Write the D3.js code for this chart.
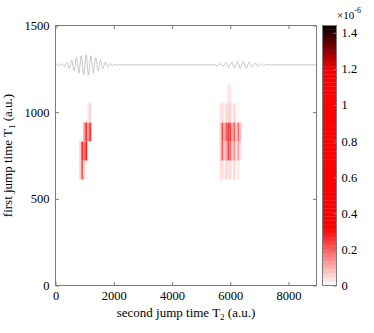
<!DOCTYPE html>
<html><head><meta charset="utf-8">
<script src="https://cdn.jsdelivr.net/npm/d3@7"></script>
<style>
body{margin:0;background:#fff}
svg{display:block}
text{font-family:"Liberation Serif","Times New Roman",serif;fill:#000}
</style>
</head><body>
<svg id="c" width="374" height="333"></svg>
<script>
// ---- data ----
const xTicks = [0, 2000, 4000, 6000, 8000];
const yTicks = [0, 500, 1000, 1500];
const cTicks = [0, 0.2, 0.4, 0.6, 0.8, 1, 1.2, 1.4];
const xMax = 8960, yMax = 1500, cMax = 1.44;

const t1Rows = [666, 776, 886, 996, 1106];
const cellW = 68.75, cellH = 110;

const cluster1T2 = [849, 918, 987, 1055, 1124, 1193];
const cluster1Vals = [
  [0.05, 0.22, 0.05, 0,    0,    0   ],
  [0.05, 0.25, 0.20, 0.27, 0,    0   ],
  [0,    0,    0.12, 0.26, 0.12, 0.26],
  [0,    0,    0,    0,    0.03, 0.06],
  [0,    0,    0,    0,    0,    0   ]
];

const cluster2T2 = [5662, 5731, 5799, 5868, 5937, 6006, 6074, 6143, 6212, 6281, 6349];
const cluster2Vals = [
  [0.04, 0.05, 0.02, 0.05, 0.03, 0.05, 0.02, 0.05, 0.02, 0.03, 0   ],
  [0.05, 0.22, 0.06, 0.12, 0.24, 0.20, 0.06, 0.15, 0.04, 0.12, 0.03],
  [0.05, 0.24, 0.10, 0.22, 0.26, 0.24, 0.10, 0.22, 0.05, 0.20, 0.08],
  [0.03, 0.05, 0.02, 0.06, 0.06, 0.06, 0.02, 0.05, 0.02, 0.02, 0   ],
  [0,    0,    0,    0,    0.03, 0.04, 0,    0,    0,    0,    0   ]
];

const waveBase = 1273;
const wave1T2  = [60,142,225,308,390,472,555,638,720,802,885,968,1050,1132,1215,1298,1380,1462,1545,1628,1710,1792,1875,1958,2040,2122,2205];
const wave1Amp = [3,-5,7.5,-11,15.5,-21,28,-35,42,-48,53,-57,58,-57,53,-48,42,-35,28,-21,15.5,-11,7.5,-5,3,-2,1];
const wave2T2  = [5450,5550,5650,5750,5850,5950,6050,6150,6250,6350,6450,6550,6650,6750,6850,6950,7050,7150,7250];
const wave2Amp = [3,-4.6,6.5,-8.8,11.3,-13.9,16.3,-18.2,19.5,-20,19.5,-18.2,16.3,-13.9,11.3,-8.8,6.5,-4.6,3];

// ---- layout ----
const svg = d3.select("#c");
const L = 55.5, R = 316.5, T = 25.5, B = 285.5;
const x = d3.scaleLinear([0, xMax], [L, R]);
const y = d3.scaleLinear([0, yMax], [B, T]);

// colormap: white -> red, red, red -> black (64 levels)
const nLev = 64;
function cmap(v) {
  let lev = Math.min(nLev - 1, Math.max(0, Math.floor(v / cMax * nLev)));
  const vv = (lev + 0.5) / nLev * cMax;
  if (vv < 0.32) { const t = vv / 0.32; const g = Math.round(255 * (1 - t)); return `rgb(255,${g},${g})`; }
  if (vv > 1.19) { const t = Math.min(1, (vv - 1.19) / (cMax - 1.19)); return `rgb(${Math.round(255 * (1 - t))},0,0)`; }
  return "rgb(255,0,0)";
}

// cells
const cells = [];
[[cluster1T2, cluster1Vals], [cluster2T2, cluster2Vals]].forEach(([cols, vals]) => {
  vals.forEach((row, ri) => row.forEach((v, ci) => {
    if (v > 0) cells.push({ t2: cols[ci], t1: t1Rows[ri], v });
  }));
});
svg.append("g").selectAll("rect").data(cells).join("rect")
  .attr("x", d => x(d.t2 - cellW / 2))
  .attr("width", d => x(d.t2 + cellW / 2) - x(d.t2 - cellW / 2))
  .attr("y", d => y(d.t1 + cellH / 2))
  .attr("height", d => y(d.t1 - cellH / 2) - y(d.t1 + cellH / 2))
  .attr("fill", d => cmap(d.v));

// wave line
const wavePts = [[0, waveBase]]
  .concat(wave1T2.map((t, i) => [t, waveBase + wave1Amp[i]]))
  .concat([[2300, waveBase], [5350, waveBase]])
  .concat(wave2T2.map((t, i) => [t, waveBase + wave2Amp[i]]))
  .concat([[7350, waveBase], [xMax, waveBase]]);
svg.append("path")
  .attr("d", d3.line().x(d => x(d[0])).y(d => y(d[1])).curve(d3.curveMonotoneX)(wavePts))
  .attr("fill", "none").attr("stroke", "#a8a8a8").attr("stroke-width", 0.65);

// axes
const axColor = "#7a7a7a";
function styleAxis(g) {
  g.select(".domain").remove();
  g.selectAll(".tick line").attr("stroke", axColor);
  g.selectAll(".tick text").style("font-size", "12.5px").style("font-family", '"Liberation Serif",serif').attr("fill", "#000");
}
svg.append("g").attr("transform", `translate(0,${B})`)
  .call(d3.axisBottom(x).tickValues(xTicks).tickSize(-3.5).tickPadding(6).tickFormat(d3.format("d")))
  .call(styleAxis);
svg.append("g").attr("transform", `translate(0,${T})`)
  .call(d3.axisTop(x).tickValues(xTicks).tickSize(-3.5).tickFormat(""))
  .call(styleAxis);
svg.append("g").attr("transform", `translate(${L},0)`)
  .call(d3.axisLeft(y).tickValues(yTicks).tickSize(-3.5).tickPadding(6).tickFormat(d3.format("d")))
  .call(styleAxis);
svg.append("g").attr("transform", `translate(${R},0)`)
  .call(d3.axisRight(y).tickValues(yTicks).tickSize(-3.5).tickFormat(""))
  .call(styleAxis);
svg.append("rect").attr("x", L).attr("y", T).attr("width", R - L).attr("height", B - T)
  .attr("fill", "none").attr("stroke", axColor).attr("stroke-width", 1);

// axis labels
const yl = svg.append("text").attr("transform", `translate(12,${(T + B) / 2}) rotate(-90)`)
  .attr("text-anchor", "middle").style("font-size", "13px");
yl.append("tspan").text("first jump time T");
yl.append("tspan").text("1").attr("dy", 3).style("font-size", "9px");
yl.append("tspan").text(" (a.u.)").attr("dy", -3);

const xl = svg.append("text").attr("x", (L + R) / 2).attr("y", 317)
  .attr("text-anchor", "middle").style("font-size", "13px");
xl.append("tspan").text("second jump time T");
xl.append("tspan").text("2").attr("dy", 3).style("font-size", "9px");
xl.append("tspan").text(" (a.u.)").attr("dy", -3);

// colorbar
const cbL = 322.5, cbR = 336.5;
const cy = d3.scaleLinear([0, cMax], [B, T]);
const levels = d3.range(nLev);
svg.append("g").selectAll("rect").data(levels).join("rect")
  .attr("x", cbL).attr("width", cbR - cbL)
  .attr("y", i => cy((i + 1) / nLev * cMax))
  .attr("height", i => cy(i / nLev * cMax) - cy((i + 1) / nLev * cMax) + 0.3)
  .attr("fill", i => cmap((i + 0.5) / nLev * cMax));
svg.append("g").attr("transform", `translate(${cbR},0)`)
  .call(d3.axisRight(cy).tickValues(cTicks).tickSize(-3).tickPadding(5).tickFormat(d => d3.format("~g")(d)))
  .call(styleAxis);
svg.append("rect").attr("x", cbL).attr("y", T).attr("width", cbR - cbL).attr("height", B - T)
  .attr("fill", "none").attr("stroke", axColor).attr("stroke-width", 1);
const ex = svg.append("text").attr("x", 337).attr("y", 19).style("font-size", "11px");
ex.append("tspan").text("\u00d710");
ex.append("tspan").text("-6").attr("dy", -6).style("font-size", "8px");
</script>
</body></html>
